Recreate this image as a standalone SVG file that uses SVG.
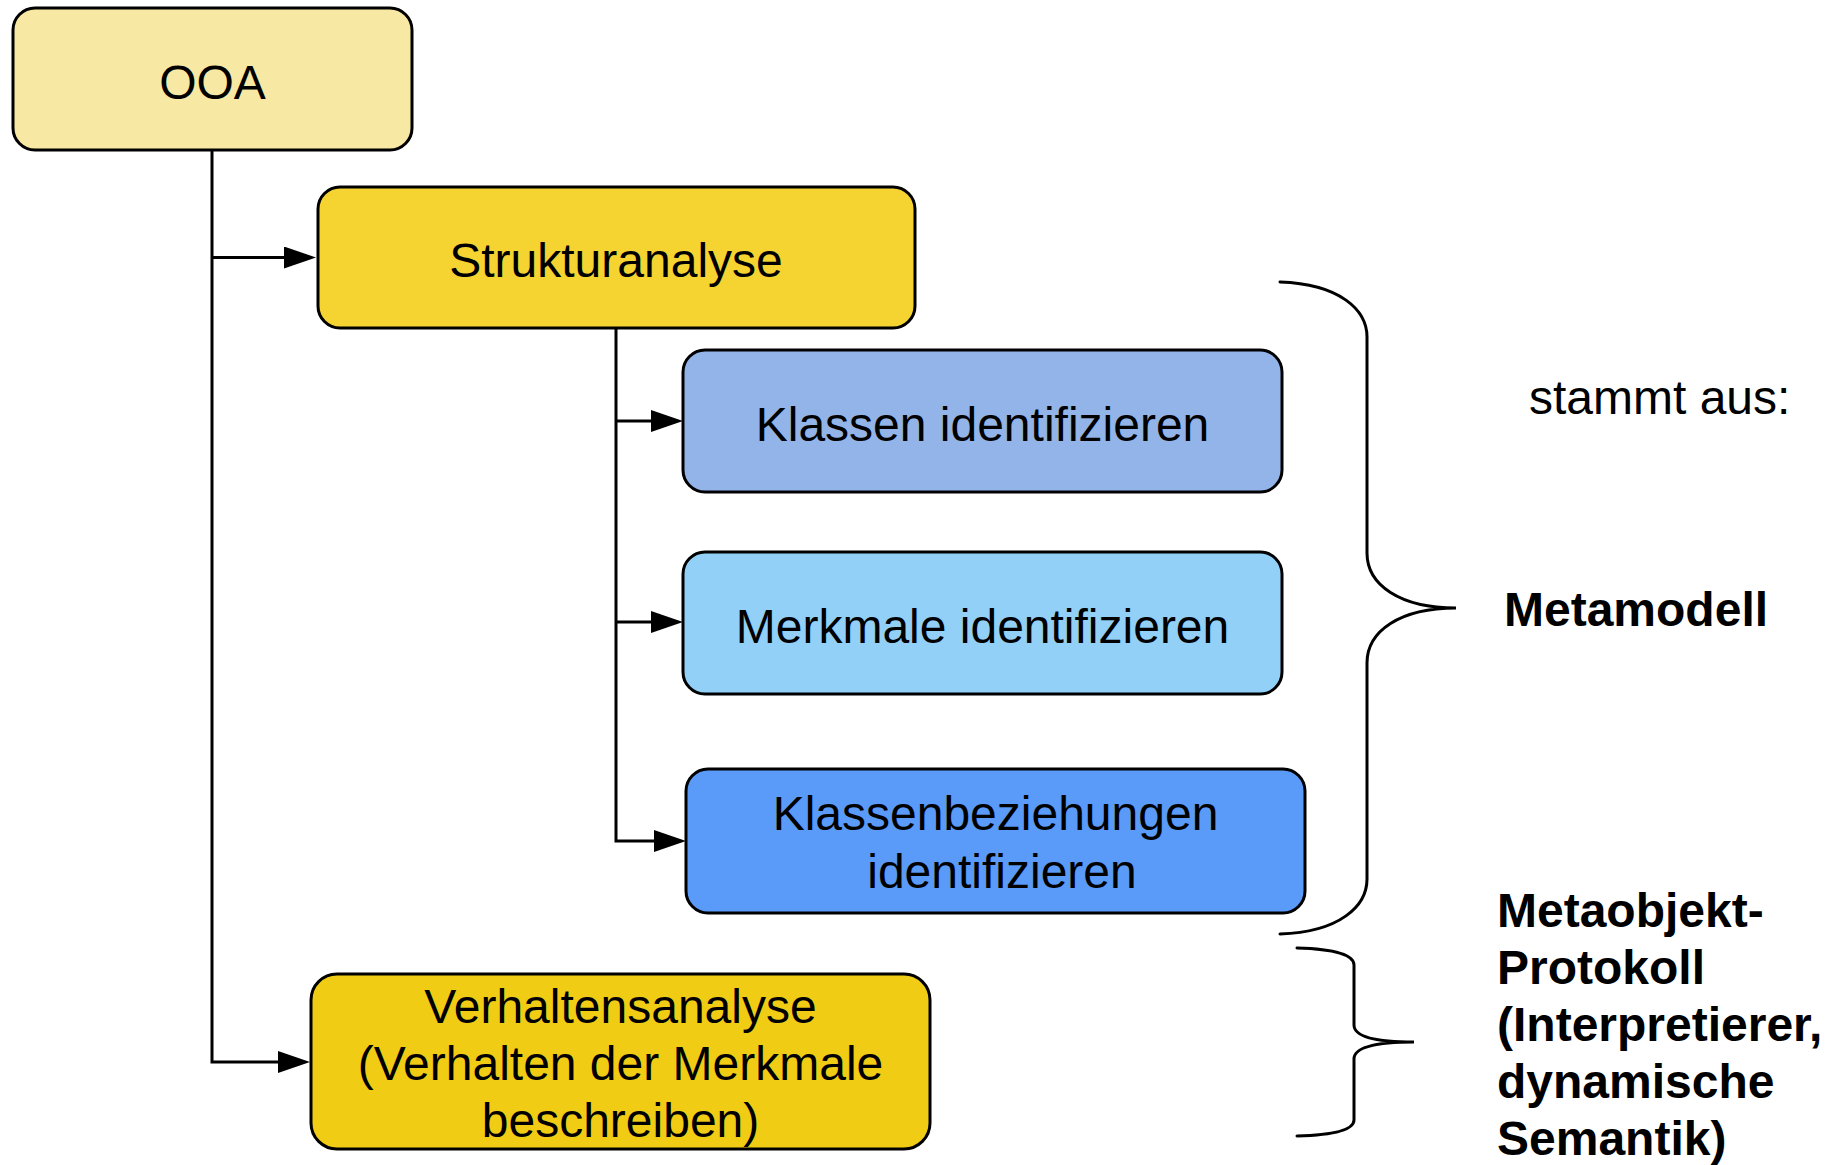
<svg xmlns="http://www.w3.org/2000/svg" width="1844" height="1165" viewBox="0 0 1844 1165">
<style>
.node{stroke:#000;stroke-width:3}
.lbl{font-family:"Liberation Sans",Arial,sans-serif;font-size:48px;fill:#000;text-anchor:middle}
.side{font-family:"Liberation Sans",Arial,sans-serif;font-size:48px;fill:#000}
.b{font-weight:bold}
.conn{fill:none;stroke:#000;stroke-width:3}
.brace{fill:none;stroke:#000;stroke-width:3;stroke-linecap:round}
</style>
<defs>
<marker id="ah" viewBox="0 0 32 22" refX="16" refY="11" markerWidth="32" markerHeight="22" markerUnits="userSpaceOnUse" orient="auto">
<path d="M0,0 L32,11 L0,22 z" fill="#000"/>
</marker>
</defs>
<rect width="1844" height="1165" fill="#fff"/>
<g id="connectors">
<path class="conn" d="M212,150 V1062 H294" marker-end="url(#ah)"/>
<path class="conn" d="M212,257.5 H300" marker-end="url(#ah)"/>
<path class="conn" d="M616,328 V841 H670" marker-end="url(#ah)"/>
<path class="conn" d="M616,421 H667" marker-end="url(#ah)"/>
<path class="conn" d="M616,622 H667" marker-end="url(#ah)"/>
</g>
<g id="ooa">
<rect class="node" x="13" y="8" width="399" height="142" rx="22" fill="#F7E8A4"/>
<text class="lbl" x="212.5" y="99">OOA</text>
</g>
<g id="strukturanalyse">
<rect class="node" x="318" y="187" width="597" height="141" rx="22" fill="#F5D331"/>
<text class="lbl" x="616" y="277">Strukturanalyse</text>
</g>
<g id="klassen">
<rect class="node" x="683" y="350" width="599" height="142" rx="22" fill="#92B4E8"/>
<text class="lbl" x="982.5" y="440.5">Klassen identifizieren</text>
</g>
<g id="merkmale">
<rect class="node" x="683" y="552" width="599" height="142" rx="22" fill="#92D0F8"/>
<text class="lbl" x="982.5" y="642.5">Merkmale identifizieren</text>
</g>
<g id="klassenbeziehungen">
<rect class="node" x="686" y="769" width="619" height="144" rx="22" fill="#5A9AF9"/>
<text class="lbl" x="995.5" y="830">Klassenbeziehungen</text>
<text class="lbl" x="1002" y="888">identifizieren</text>
</g>
<g id="verhaltensanalyse">
<rect class="node" x="311" y="974" width="619" height="175" rx="26" fill="#F0CC14"/>
<text class="lbl" x="620.5" y="1023">Verhaltensanalyse</text>
<text class="lbl" x="620.5" y="1080">(Verhalten der Merkmale</text>
<text class="lbl" x="620.5" y="1137">beschreiben)</text>
</g>
<g id="brace-metamodell">
<path class="brace" d="M1280,282 C1340,284 1367,310 1367,337 L1367,553 C1367,585 1400,608 1456,608 C1400,608 1367,631 1367,663 L1367,879 C1367,906 1340,932 1280,934"/>
</g>
<g id="brace-mop">
<path class="brace" d="M1297,948 C1335,949 1354,955 1354,965 L1354,1025 C1354,1035 1370,1042 1414,1042 C1370,1042 1354,1049 1354,1059 L1354,1120 C1354,1130 1335,1135 1297,1136"/>
</g>
<g id="labels">
<text class="side" x="1529" y="414">stammt aus:</text>
<text class="side b" x="1504" y="626">Metamodell</text>
<text class="side b" x="1497" y="927">Metaobjekt-</text>
<text class="side b" x="1497" y="984">Protokoll</text>
<text class="side b" x="1497" y="1041">(Interpretierer,</text>
<text class="side b" x="1497" y="1098">dynamische</text>
<text class="side b" x="1497" y="1155">Semantik)</text>
</g>
</svg>
